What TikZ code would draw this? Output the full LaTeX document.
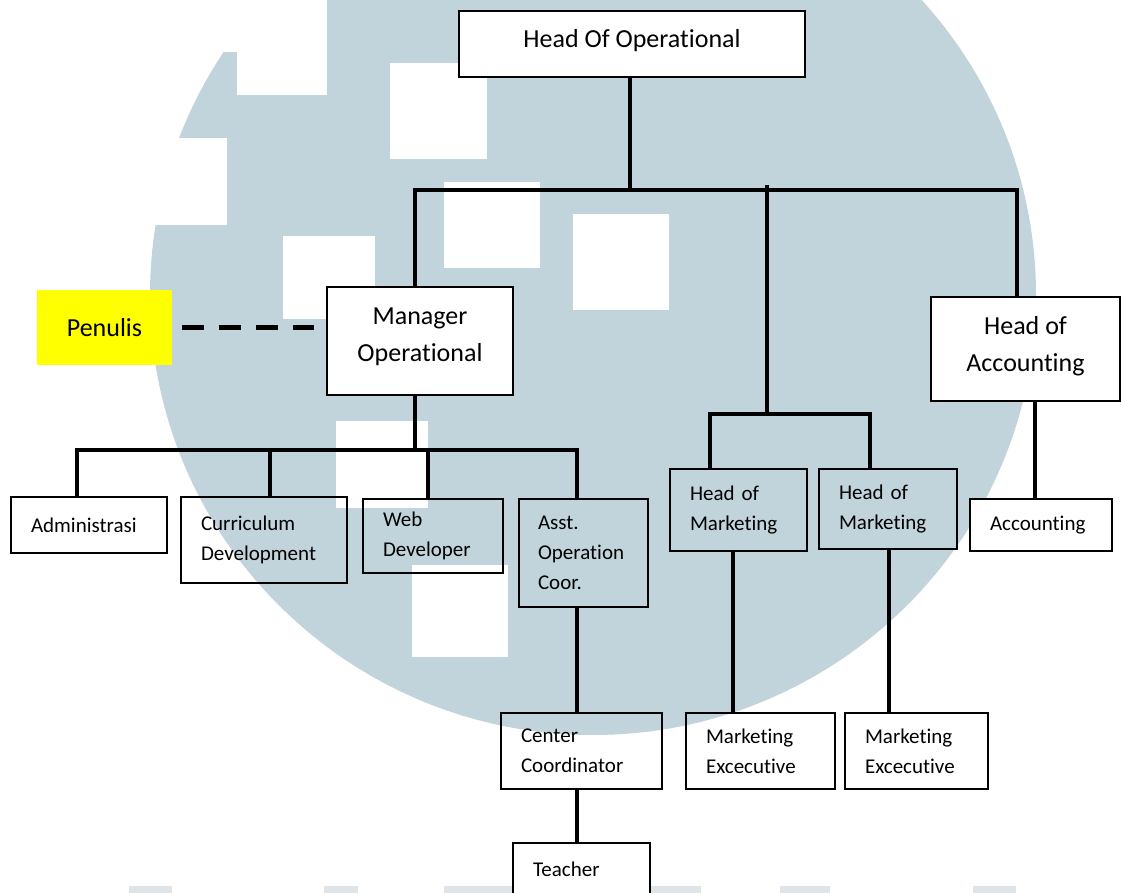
\documentclass[tikz,border=0pt]{standalone}
\usepackage{fontspec}
\setmainfont{Carlito}[Ligatures=NoCommon]
\definecolor{wm}{RGB}{194,212,219}
\definecolor{wmfaint}{RGB}{222,228,232}
\definecolor{penyellow}{RGB}{255,255,0}
\begin{document}
\begin{tikzpicture}[x=1pt,y=-1pt,
  conn/.style={line width=4.5pt},
  dashline/.style={line width=5pt, dash pattern=on 22pt off 15pt},
  bigbox/.style={draw, line width=1.6pt, fill=white, align=center,
    font=\fontsize{26}{37}\selectfont, inner sep=0pt},
  smallbox/.style={draw, line width=1.3pt, align=left,
    font=\fontsize{21}{30}\selectfont, inner xsep=20pt, inner ysep=0pt},
  wsq/.style={fill=white}
]
\useasboundingbox (0,0) rectangle (1122,893);
\clip (0,0) rectangle (1122,893);
\fill[white] (0,0) rectangle (1122,893);
% watermark
\fill[wm] (593,295) ellipse [x radius=443, y radius=440];
\fill[wsq] (100,138) rectangle (227,225);
\fill[wsq] (200,0) rectangle (327,52);
\fill[wsq] (237,52) rectangle (327,95);
\fill[wsq] (390,63) rectangle (487,159);
\fill[wsq] (444,182) rectangle (540,268);
\fill[wsq] (573,214) rectangle (669,310);
\fill[wsq] (283,236) rectangle (375,319);
\fill[wsq] (336,421) rectangle (428,508);
\fill[wsq] (412,565) rectangle (508,657);
\foreach \xa/\xb in {129/172, 324/358, 444/515, 630/701, 780/830, 973/1016}
  \fill[wmfaint] (\xa,886) rectangle (\xb,893);

% nodes
\node[bigbox, line width=2.2pt, minimum width=346, minimum height=66, text depth=12pt] (hop) at (632,44) {Head Of Operational};
\node[bigbox, minimum width=186, minimum height=108, text depth=13pt] (mgr) at (420,341) {Manager\\Operational};
\node[fill=penyellow, minimum width=135, minimum height=75, inner sep=0pt,
      font=\fontsize{26}{37}\selectfont] (pen) at (104.5,327.5) {Penulis};
\node[bigbox, minimum width=189, minimum height=104, text depth=10pt] (hacc) at (1025.5,349) {Head of\\Accounting};

\node[smallbox, fill=white, line width=2pt, text width=116pt, minimum height=56] (adm) at (89,525) {Administrasi};
\node[smallbox, text width=126pt, minimum height=86] (cur) at (264,540) {Curriculum\\Development};
\node[smallbox, text width=100pt, minimum height=74] (web) at (433,536) {Web\\Developer};
\node[smallbox, text width=91pt, inner xsep=19pt, minimum height=108] (asst) at (583.5,553) {Asst.\\Operation\\Coor.};
\node[smallbox, text width=97pt, minimum height=82] (hom1) at (738.5,510) {Head of\\Marketing};
\node[smallbox, text width=98pt, minimum height=80] (hom2) at (888,509) {Head of\\Marketing};
\node[smallbox, fill=white, text width=102pt, minimum height=52] (acc) at (1041,525) {Accounting};
\node[smallbox, text width=121pt, minimum height=76] (cc) at (581.5,751) {Center\\Coordinator};
\node[smallbox, text width=109pt, minimum height=76] (me1) at (760.5,751) {Marketing\\Excecutive};
\node[smallbox, text width=103pt, minimum height=76] (me2) at (916.5,751) {Marketing\\Excecutive};
\node[smallbox, fill=white, text width=97pt, minimum height=53] (tea) at (581.5,869.5) {Teacher};

% junction coordinates
\coordinate (b1) at (630,190);
\coordinate (b1L) at (415,190);
\coordinate (b1R) at (1017,190);
\coordinate (b1M) at (767,185);
\coordinate (b2M) at (767,414);
\coordinate (b2L) at (710,414);
\coordinate (b2R) at (870,414);
\coordinate (b3L) at (77,450);
\coordinate (b3C) at (270,450);
\coordinate (b3W) at (428,450);
\coordinate (b3R) at (577,450);
\coordinate (m1x) at (733,0);
\coordinate (m2x) at (889,0);
\coordinate (ax) at (1035,0);

% connectors
\draw[conn] (hop.south -| b1) -- (b1);
\draw[conn] (mgr.north -| b1L) -- (b1L) -- (b1R) -- (hacc.north -| b1R);
\draw[conn] (b1M) -- (b2M);
\draw[conn] (hom1.north -| b2L) -- (b2L) -- (b2R) -- (hom2.north -| b2R);
\draw[conn] (hom1.south -| m1x) -- (me1.north -| m1x);
\draw[conn] (hom2.south -| m2x) -- (me2.north -| m2x);
\draw[conn] (hacc.south -| ax) -- (acc.north -| ax);
\draw[conn] (mgr.south -| b1L) -- (b1L |- b3L);
\draw[conn] (adm.north -| b3L) -- (b3L) -- (b3R) -- (asst.north -| b3R);
\draw[conn] (b3C) -- (cur.north -| b3C);
\draw[conn] (b3W) -- (web.north -| b3W);
\draw[conn] (asst.south -| b3R) -- (cc.north -| b3R);
\draw[conn] (cc.south -| b3R) -- (tea.north -| b3R);
\draw[dashline, shorten <=10pt, shorten >=12pt] (pen.east) -- (pen.east -| mgr.west);
\end{tikzpicture}
\end{document}
